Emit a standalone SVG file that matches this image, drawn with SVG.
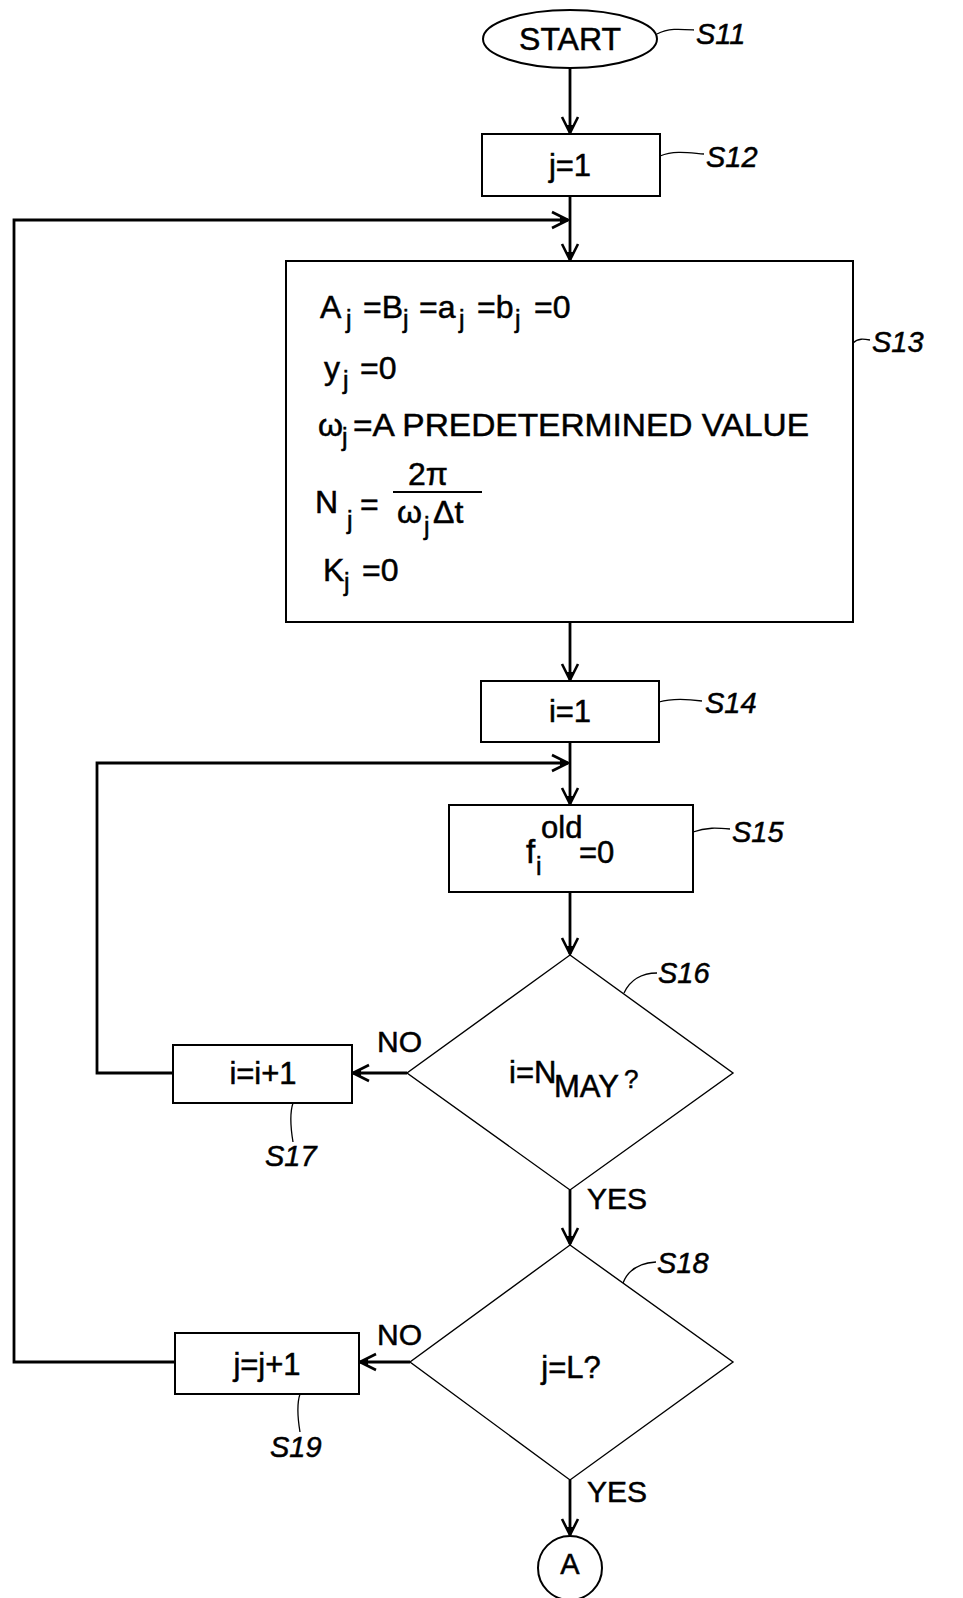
<svg xmlns="http://www.w3.org/2000/svg" width="963" height="1598" viewBox="0 0 963 1598">
<style>
text{font-family:"Liberation Sans",Arial,sans-serif;fill:#000;stroke:#000;stroke-width:0.5}
.t{font-size:31px}
.b{font-size:32px}
.s{font-size:25px}
.lbl{font-size:29px;font-style:italic}
.yn{font-size:30px}
.box{fill:#fff;stroke:#000;stroke-width:2}
.dia{fill:#fff;stroke:#000;stroke-width:1.4}
.con{fill:none;stroke:#000;stroke-width:2.8;stroke-linejoin:miter}
.ld{fill:none;stroke:#000;stroke-width:1.3}
</style>
<defs>
<marker id="arr" viewBox="-18 -10 20 20" refX="0" refY="0" markerWidth="20" markerHeight="20" markerUnits="userSpaceOnUse" orient="auto">
<path d="M-16,-8 L0,0 L-16,8" fill="none" stroke="#000" stroke-width="2.6" stroke-linejoin="round"/>
<path d="M-8,-3.5 L0,0 L-8,3.5 z" fill="#000"/>
</marker>
</defs>

<g id="connectors">
<path class="con" d="M570,68 V133" marker-end="url(#arr)"/>
<path class="con" d="M570,196 V260" marker-end="url(#arr)"/>
<path class="con" d="M175,1362 H14 V220 H568" marker-end="url(#arr)"/>
<path class="con" d="M570,622 V680" marker-end="url(#arr)"/>
<path class="con" d="M570,742 V804" marker-end="url(#arr)"/>
<path class="con" d="M173,1073 H97 V763 H568" marker-end="url(#arr)"/>
<path class="con" d="M570,892 V954" marker-end="url(#arr)"/>
<path class="con" d="M407,1073 H353" marker-end="url(#arr)"/>
<path class="con" d="M570,1190 V1244" marker-end="url(#arr)"/>
<path class="con" d="M410,1362 H360" marker-end="url(#arr)"/>
<path class="con" d="M570,1480 V1535" marker-end="url(#arr)"/>
</g>

<g id="S11">
<ellipse cx="570" cy="39" rx="87" ry="29" class="box"/>
<text class="b" x="570" y="50" text-anchor="middle">START</text>
<path class="ld" d="M657,34 C668,28 680,29 694,30"/>
<text class="lbl" x="696" y="44">S11</text>
</g>

<g id="S12">
<rect x="482" y="134" width="178" height="62" class="box"/>
<text class="t" x="570" y="176" text-anchor="middle">j=1</text>
<path class="ld" d="M660,156 C675,150 690,153 704,154"/>
<text class="lbl" x="706" y="167">S12</text>
</g>

<g id="S13">
<rect x="286" y="261" width="567" height="361" class="box"/>
<text class="b" y="318"><tspan x="320">A</tspan><tspan class="s" x="346" dy="10">j</tspan><tspan x="363" dy="-10">=B</tspan><tspan class="s" x="403" dy="10">j</tspan><tspan x="419" dy="-10">=a</tspan><tspan class="s" x="459" dy="10">j</tspan><tspan x="477" dy="-10">=b</tspan><tspan class="s" x="515" dy="10">j</tspan><tspan x="534" dy="-10">=0</tspan></text>
<text class="b" y="379"><tspan x="324">y</tspan><tspan class="s" x="343" dy="10">j</tspan><tspan x="360" dy="-10">=0</tspan></text>
<text class="b" y="436"><tspan x="318">ω</tspan><tspan class="s" x="342" dy="10">j</tspan><tspan x="353" dy="-10" textLength="456" lengthAdjust="spacingAndGlyphs">=A PREDETERMINED VALUE</tspan></text>
<text class="b" y="513"><tspan x="315">N</tspan><tspan class="s" x="347" dy="16">j</tspan><tspan x="360" dy="-14">=</tspan></text>
<text class="b" x="408" y="485">2π</text>
<line x1="393" y1="492" x2="482" y2="492" stroke="#000" stroke-width="2"/>
<text class="b" y="523"><tspan x="397">ω</tspan><tspan class="s" x="424" dy="12">j</tspan><tspan x="433" dy="-12">Δt</tspan></text>
<text class="b" y="581"><tspan x="323">K</tspan><tspan class="s" x="344" dy="10">j</tspan><tspan x="362" dy="-10">=0</tspan></text>
<path class="ld" d="M853,343 C858,338 864,339 870,340"/>
<text class="lbl" x="872" y="352">S13</text>
</g>

<g id="S14">
<rect x="481" y="681" width="178" height="61" class="box"/>
<text class="t" x="570" y="722" text-anchor="middle">i=1</text>
<path class="ld" d="M659,702 C672,698 688,699 702,701"/>
<text class="lbl" x="705" y="713">S14</text>
</g>

<g id="S15">
<rect x="449" y="805" width="244" height="87" class="box"/>
<text class="t" x="526" y="863" style="font-size:33px">f</text>
<text class="s" x="536" y="875">i</text>
<text class="t" x="541" y="838">old</text>
<text class="t" x="579" y="863">=0</text>
<path class="ld" d="M693,832 C706,827 718,828 730,829"/>
<text class="lbl" x="732" y="842">S15</text>
</g>

<g id="S16">
<polygon points="570,955 733,1073 570,1190 407,1073" class="dia"/>
<text class="t" y="1083"><tspan x="509">i=N</tspan><tspan x="554" dy="14">MAY</tspan><tspan x="624" dy="-9" style="font-size:26px">?</tspan></text>
<path class="ld" d="M624,993 C630,980 642,973 657,973"/>
<text class="lbl" x="658" y="983">S16</text>
<text class="yn" x="377" y="1052">NO</text>
<text class="yn" x="587" y="1209">YES</text>
</g>

<g id="S17">
<rect x="173" y="1045" width="179" height="58" class="box"/>
<text class="t" x="263" y="1084" text-anchor="middle">i=i+1</text>
<path class="ld" d="M293,1103 C289,1115 291,1130 293,1142"/>
<text class="lbl" x="265" y="1166">S17</text>
</g>

<g id="S18">
<polygon points="570,1245 733,1362 570,1480 410,1362" class="dia"/>
<text class="t" x="571" y="1378" text-anchor="middle">j=L?</text>
<path class="ld" d="M623,1283 C628,1270 640,1263 656,1262"/>
<text class="lbl" x="657" y="1273">S18</text>
<text class="yn" x="377" y="1345">NO</text>
<text class="yn" x="587" y="1502">YES</text>
</g>

<g id="S19">
<rect x="175" y="1333" width="184" height="61" class="box"/>
<text class="t" x="267" y="1375" text-anchor="middle">j=j+1</text>
<path class="ld" d="M300,1394 C296,1406 298,1420 300,1432"/>
<text class="lbl" x="270" y="1457">S19</text>
</g>

<g id="A">
<ellipse cx="570" cy="1568" rx="32" ry="32" class="box" stroke-width="1.4"/>
<text class="t" x="570" y="1574" text-anchor="middle" style="font-size:29px">A</text>
</g>
</svg>
